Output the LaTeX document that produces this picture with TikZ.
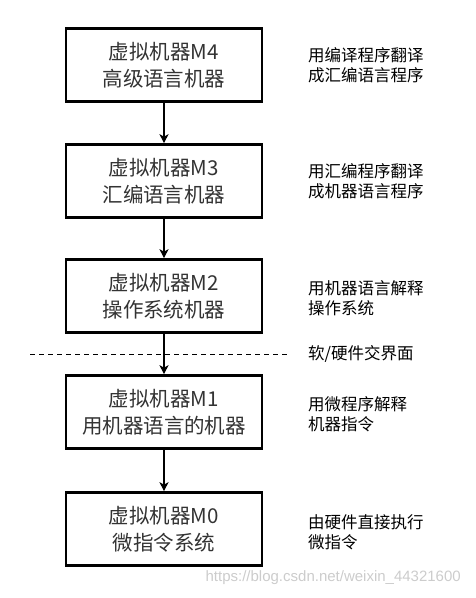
\documentclass[tikz,border=0pt]{standalone}
\usepackage{fontspec}
\newfontfamily\cjk{Noto Sans CJK SC}
\setmainfont{Liberation Sans}
\usetikzlibrary{arrows.meta}
\definecolor{boxtext}{HTML}{333333}
\begin{document}
\begin{tikzpicture}[x=1pt,y=-1pt,
  vm/.style={draw=black,line width=2.6pt,minimum width=196pt,minimum height=73pt,
    align=center,font=\fontsize{20.5}{27}\selectfont\cjk,text=boxtext,inner sep=0pt},
  note/.style={anchor=west,align=left,font=\fontsize{16.5}{20}\selectfont\cjk,inner sep=0pt},
  conn/.style={line width=1.3pt,-{Stealth[length=9pt,width=9pt,inset=2.5pt]}}]
\useasboundingbox (0,0) rectangle (475,598);
\node[vm] (m4) at (164,65) {虚拟机器M4\\高级语言机器};
\node[vm] (m3) at (164,181) {虚拟机器M3\\汇编语言机器};
\node[vm] (m2) at (164,296) {虚拟机器M2\\操作系统机器};
\node[vm] (m1) at (164,412) {虚拟机器M1\\用机器语言的机器};
\node[vm] (m0) at (164,529) {虚拟机器M0\\微指令系统};
\draw[conn] (m4) -- (m3);
\draw[conn] (m3) -- (m2);
\draw[conn] (m2) -- (m1);
\draw[conn] (m1) -- (m0);
\coordinate (dl) at (30,354);
\coordinate (dr) at (288,354);
\draw[line width=1pt,dash pattern=on 5pt off 4pt] (dl) -- (dr);
\node[note] (n4) at (308,65) {用编译程序翻译\\成汇编语言程序};
\node[note] (n3) at (308,181) {用汇编程序翻译\\成机器语言程序};
\node[note] (n2) at (308,298) {用机器语言解释\\操作系统};
\node[note] (bd) at (308,354) {软/硬件交界面};
\node[note] (n1) at (308,414) {用微程序解释\\机器指令};
\node[note] (n0) at (308,532) {由硬件直接执行\\微指令};
\node[anchor=east,inner sep=0pt,font=\fontsize{15}{18}\selectfont,text=black!20] (wm) at (461,578) {https://blog.csdn.net/weixin\_44321600};
\end{tikzpicture}
\end{document}
